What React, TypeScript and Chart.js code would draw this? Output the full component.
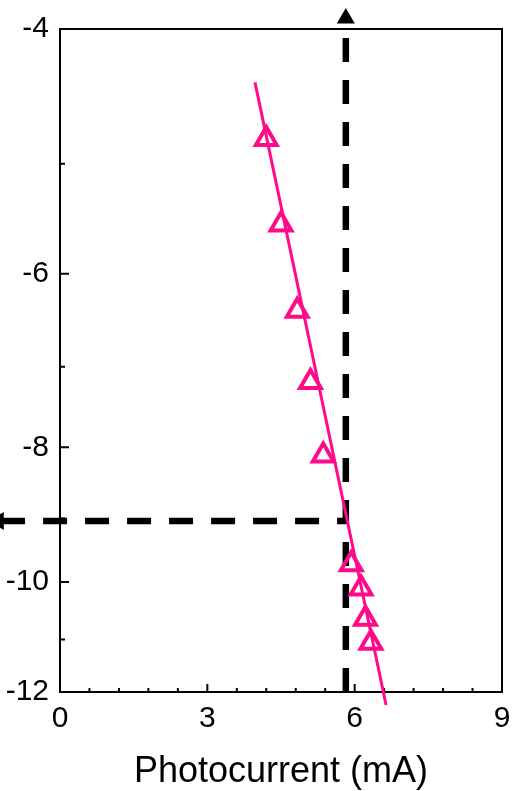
import React, { useEffect, useRef } from "react";
import { Chart, registerables } from "chart.js";

Chart.register(...registerables);

// Measured points (photocurrent in mA, y-axis value)
const photoX = [4.2, 4.5, 4.83, 5.1, 5.36, 5.93, 6.13, 6.22, 6.33];
const photoY = [-4.8, -5.53, -6.38, -7.18, -8.11, -9.71, -10.11, -10.63, -11.06];

// Fitted line end points
const fitX = [3.97, 6.64];
const fitY = [-4.37, -12.26];

// Guide (dashed) lines
const guideX = 5.82;
const guideY = -9.04;
const vGuideY = [-12, -4];
const hGuideX = [-1.2, 5.82];
const arrowUp = { x: 5.82, y: -3.93 };
const arrowLeft = { x: -1.25, y: -9.04 };

// Axes
const xTicks = [0, 0.6, 1.2, 1.8, 2.4, 3, 3.6, 4.2, 4.8, 5.4, 6, 6.6, 7.2, 7.8, 8.4, 9];
const xTickLabels = [0, 3, 6, 9];
const yTicks = [-4, -5, -6, -7, -8, -9, -10, -11, -12];
const yTickLabels = [-4, -6, -8, -10, -12];
const xTitle = "Photocurrent (mA)";

const PINK = "#ff0a8a";
const FONT = "'Liberation Sans', Arial, sans-serif";

const decorPlugin = {
  id: "decor",
  beforeDatasetsDraw(chart: any) {
    const { ctx, chartArea: a, scales } = chart;
    ctx.save();
    ctx.strokeStyle = "#000";
    ctx.lineWidth = 2;
    ctx.strokeRect(a.left, a.top, a.right - a.left, a.bottom - a.top);
    ctx.beginPath();
    xTicks.forEach((v) => {
      const px = scales.x.getPixelForValue(v);
      const len = xTickLabels.includes(v) ? 8 : 4;
      ctx.moveTo(px, a.bottom);
      ctx.lineTo(px, a.bottom - len);
    });
    yTicks.forEach((v) => {
      const py = scales.y.getPixelForValue(Math.abs(v));
      const len = yTickLabels.includes(v) ? 9 : 5;
      ctx.moveTo(a.left, py);
      ctx.lineTo(a.left + len, py);
    });
    ctx.stroke();
    ctx.restore();
  },
  afterDatasetsDraw(chart: any) {
    const { ctx, scales } = chart;
    const r = 10.4;
    ctx.save();
    ctx.fillStyle = "#000";
    // up arrow
    let cx = scales.x.getPixelForValue(arrowUp.x);
    let cy = scales.y.getPixelForValue(Math.abs(arrowUp.y));
    ctx.beginPath();
    ctx.moveTo(cx, cy - r);
    ctx.lineTo(cx + r * 0.866, cy + r / 2);
    ctx.lineTo(cx - r * 0.866, cy + r / 2);
    ctx.closePath();
    ctx.fill();
    // left arrow
    cx = scales.x.getPixelForValue(arrowLeft.x);
    cy = scales.y.getPixelForValue(Math.abs(arrowLeft.y));
    ctx.beginPath();
    ctx.moveTo(cx - r, cy);
    ctx.lineTo(cx + r / 2, cy - r * 0.866);
    ctx.lineTo(cx + r / 2, cy + r * 0.866);
    ctx.closePath();
    ctx.fill();
    ctx.restore();
  },
};

export default function App() {
  const ref = useRef<HTMLCanvasElement | null>(null);

  useEffect(() => {
    if (!ref.current) return;
    const chart = new Chart(ref.current, {
      type: "line",
      data: {
        datasets: [
          {
            label: "points",
            data: photoX.map((x, i) => ({ x, y: Math.abs(photoY[i]) })),
            showLine: false,
            pointStyle: "triangle",
            pointRadius: 12,
            pointBorderWidth: 4,
            pointBorderColor: PINK,
            pointBackgroundColor: "rgba(0,0,0,0)",
            borderColor: PINK,
            clip: false as any,
          },
          {
            label: "fit",
            data: fitX.map((x, i) => ({ x, y: Math.abs(fitY[i]) })),
            borderColor: PINK,
            borderWidth: 3,
            pointRadius: 0,
            clip: false as any,
          },
          {
            label: "vguide",
            data: vGuideY.map((y) => ({ x: guideX, y: Math.abs(y) })),
            borderColor: "#000",
            borderWidth: 6.5,
            borderDash: [24, 18],
            borderCapStyle: "butt",
            pointRadius: 0,
            clip: false as any,
          },
          {
            label: "hguide",
            data: hGuideX.map((x) => ({ x, y: Math.abs(guideY) })),
            borderColor: "#000",
            borderWidth: 6.5,
            borderDash: [24, 18],
            borderCapStyle: "butt",
            pointRadius: 0,
            clip: false as any,
          },
        ],
      },
      options: {
        responsive: false,
        animation: false,
        devicePixelRatio: 1,
        layout: { padding: { top: 29, right: 20, left: 0, bottom: 0 } },
        plugins: { legend: { display: false }, tooltip: { enabled: false } },
        scales: {
          x: {
            type: "linear",
            position: "bottom",
            min: 0,
            max: 9,
            afterBuildTicks: (s: any) => {
              s.ticks = xTicks.map((v) => ({ value: v }));
            },
            afterFit: (s: any) => {
              s.height = 99;
            },
            grid: { display: false, drawTicks: false },
            border: { display: false },
            ticks: {
              autoSkip: false,
              maxRotation: 0,
              padding: 9,
              color: "#000",
              font: { family: FONT, size: 30 },
              callback: (v: any) => (xTickLabels.includes(Number(v)) ? String(v) : ""),
            },
            title: {
              display: true,
              text: xTitle,
              color: "#000",
              font: { family: FONT, size: 36, lineHeight: 1 },
              padding: { top: 0, bottom: 1 },
            },
          },
          y: {
            type: "logarithmic",
            min: 4,
            max: 12,
            reverse: true,
            bounds: "data",
            afterBuildTicks: (s: any) => {
              s.ticks = yTicks.map((v) => ({ value: Math.abs(v) }));
            },
            afterFit: (s: any) => {
              s.width = 60;
            },
            grid: { display: false, drawTicks: false },
            border: { display: false },
            ticks: {
              autoSkip: false,
              padding: 11,
              color: "#000",
              font: { family: FONT, size: 30 },
              callback: (v: any) => (yTickLabels.includes(-Number(v)) ? "-" + Number(v) : ""),
            },
          },
        },
      } as any,
      plugins: [decorPlugin],
    });
    return () => chart.destroy();
  }, []);

  return (
    <div style={{ position: "absolute", left: 0, top: 0, width: 522, height: 791, background: "#fff" }}>
      <canvas ref={ref} width={522} height={791} style={{ display: "block" }} />
    </div>
  );
}
